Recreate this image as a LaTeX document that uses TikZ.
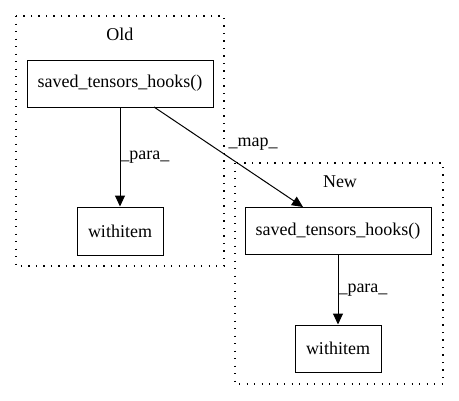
\documentclass[tikz,border=0pt]{standalone}
\usepackage{fontspec}
\setmainfont{Liberation Serif}
\usetikzlibrary{positioning,arrows.meta}

\tikzset{
  fnbox/.style={draw, line width=1pt, minimum height=47pt, inner sep=0pt, font=\fontsize{18}{20}\selectfont},
  cluster/.style={draw, line width=1.2pt, dash pattern=on 1.2pt off 6.3pt},
  flow/.style={draw, line width=1pt, -{Triangle[length=11pt,width=10pt]}},
  edgelbl/.style={font=\fontsize{18}{20}\selectfont, inner sep=1pt}
}

\begin{document}
\begin{tikzpicture}[x=1pt,y=-1pt]
            \useasboundingbox (0,0) rectangle (459,400);
            \def\oldbox{(16,16) rectangle (224,266)}
            \def\newbox{(235,163) rectangle (443,384)}

            \draw[cluster] \oldbox;
            \draw[cluster] \newbox;

            \node[edgelbl] (oldtitle) at (120,34) {Old};
            \node[edgelbl] (newtitle) at (340,182) {New};

            \node[fnbox, minimum width=186pt] (oldhooks) at (120,83.5) {saved\_tensors\_hooks()};
            \node[fnbox, minimum width=86pt, minimum height=48pt] (oldwith) at (120,231) {withitem};
            \node[fnbox, minimum width=186pt] (newhooks) at (338,231) {saved\_tensors\_hooks()};
            \node[fnbox, minimum width=86pt] (newwith) at (338,348.5) {withitem};

            \coordinate (mapstart) at (154,107);
            \coordinate (mapend) at (303,207);

            \draw[flow] (oldhooks) -- node[edgelbl, right=-1pt] {\_para\_} (oldwith);
            \draw[flow] (mapstart) -- (mapend);
            \draw[flow] (newhooks) -- node[edgelbl, right=-1pt] {\_para\_} (newwith);
            \node[edgelbl] (maplbl) at (253,144) {\_map\_};
\end{tikzpicture}
\end{document}
